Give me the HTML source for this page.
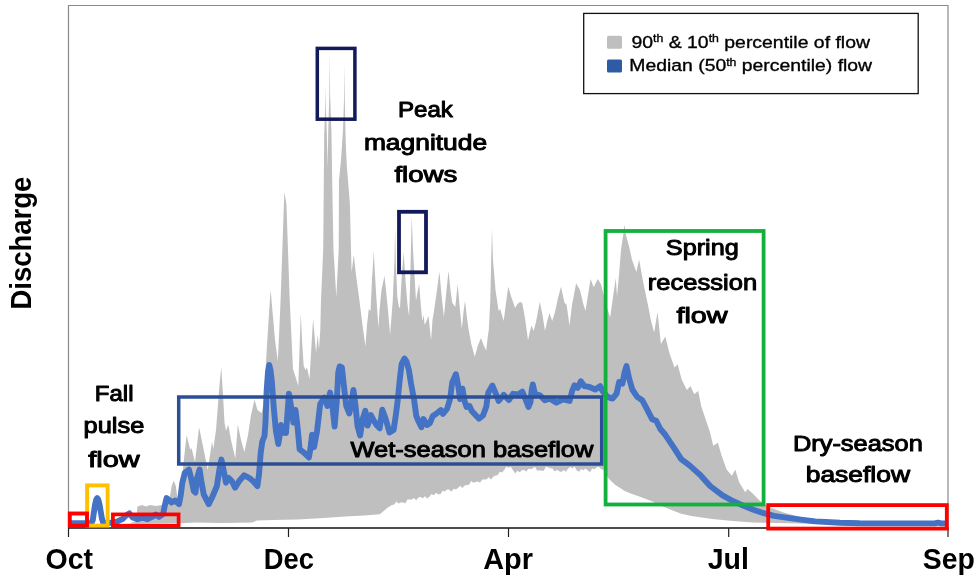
<!DOCTYPE html>
<html lang="en"><head><meta charset="utf-8"><title>Functional flow components</title>
<style>
html,body{margin:0;padding:0;background:#fff;}
body{width:977px;height:582px;overflow:hidden;font-family:"Liberation Sans",Arial,sans-serif;}
svg{display:block;}
</style></head><body>
<svg width="977" height="582" viewBox="0 0 977 582">
<rect x="0" y="0" width="977" height="582" fill="#ffffff"/>
<!-- percentile band -->
<polygon points="130.0,523.0 135.0,521.8 136.6,519.0 137.4,506.5 142.0,505.0 146.0,506.5 150.0,505.0 156.0,506.0 162.0,505.0 167.0,503.5 169.6,499.0 171.7,486.0 173.8,480.5 175.8,486.0 177.9,501.0 180.0,497.0 182.7,472.5 184.0,458.7 186.6,435.0 189.0,445.0 190.3,449.7 191.5,448.0 195.0,462.0 199.1,427.3 203.7,449.7 207.8,470.0 210.0,455.0 212.0,441.5 213.3,449.0 216.0,430.0 219.5,385.0 221.2,367.0 223.0,395.0 224.5,422.5 226.0,431.0 228.2,424.5 231.0,440.0 235.3,458.5 237.8,424.5 241.0,440.0 244.4,452.0 248.0,435.0 251.0,415.0 254.5,399.8 257.5,410.0 261.5,413.0 263.5,405.0 264.3,392.0 267.0,345.0 269.9,300.0 270.7,290.0 271.5,300.0 275.0,340.0 277.8,361.0 279.3,330.0 280.6,300.0 283.9,204.0 284.4,192.0 286.4,204.0 289.7,300.0 293.0,369.0 298.3,385.8 299.5,350.0 300.8,313.5 302.0,340.0 303.7,366.0 305.5,370.0 307.0,367.5 309.5,379.2 311.5,345.0 313.1,319.0 314.5,335.0 316.1,352.8 317.7,334.6 319.0,349.5 320.3,330.0 321.0,300.0 323.2,250.0 324.2,135.0 325.1,110.0 325.5,86.0 325.9,110.0 326.9,135.0 327.6,168.0 328.3,130.0 329.3,95.0 329.7,53.0 330.1,95.0 331.4,130.0 332.6,204.0 333.5,250.0 336.3,297.0 338.7,250.0 338.9,204.0 339.0,180.0 341.0,160.0 343.0,130.0 344.0,100.0 344.4,64.0 344.8,100.0 345.4,130.0 346.0,150.0 346.9,167.0 349.9,204.0 351.0,250.0 351.6,272.0 353.8,255.0 356.0,275.0 359.5,301.0 362.5,325.0 365.4,346.5 367.0,325.0 368.8,309.0 370.5,311.0 372.0,280.0 373.8,251.0 375.0,275.0 376.5,300.0 378.5,328.0 379.5,310.0 381.5,290.0 384.5,275.8 386.5,295.0 388.0,310.0 390.1,334.8 392.8,300.0 394.4,262.0 395.1,228.0 395.8,262.0 397.3,297.0 399.0,307.0 400.0,308.0 401.5,280.0 403.6,252.0 405.5,280.0 407.5,305.0 409.1,316.5 410.2,280.0 411.7,216.0 413.0,250.0 416.0,300.7 417.5,292.0 419.2,284.0 420.8,305.0 422.3,321.0 423.7,315.0 424.6,324.7 426.0,322.0 428.5,316.0 431.1,340.2 432.5,320.0 434.0,311.0 437.0,290.0 439.4,271.4 441.5,295.0 443.9,317.0 446.0,295.0 448.5,270.8 450.5,290.0 452.2,302.8 455.3,307.0 457.7,284.0 459.5,305.0 461.8,328.9 463.5,312.0 465.0,300.7 467.0,318.0 468.7,330.0 471.5,345.0 474.8,356.7 478.0,345.0 481.0,338.0 483.5,345.0 486.2,350.5 488.0,335.0 488.8,330.0 490.3,300.0 491.2,260.0 492.0,228.6 493.0,260.0 495.5,290.0 498.6,311.0 500.2,309.0 503.7,321.0 506.0,303.0 508.2,286.7 511.0,296.0 515.0,308.0 517.5,304.0 520.2,301.8 522.3,303.5 525.0,318.0 528.0,340.2 529.8,332.0 531.5,325.5 533.6,331.0 536.0,322.0 539.8,301.8 542.5,315.0 545.0,331.0 547.5,320.0 549.5,313.0 552.2,321.0 555.0,312.0 558.0,298.0 561.0,286.7 563.0,296.0 564.5,302.8 566.6,304.8 569.5,325.6 572.0,305.0 576.1,283.2 580.0,290.0 583.0,303.0 585.5,311.0 588.0,295.0 590.6,279.0 593.7,287.3 597.8,279.0 601.0,284.2 604.0,296.0 607.0,308.0 610.2,317.2 613.0,297.0 615.8,278.0 617.0,296.6 619.0,275.0 621.0,250.0 623.2,234.7 624.5,224.4 625.9,234.7 629.2,247.0 631.9,259.5 636.4,271.9 639.1,259.5 643.2,282.2 648.4,306.9 650.8,320.0 654.2,332.4 657.5,312.0 660.9,344.0 665.3,336.5 669.4,353.0 674.5,367.4 677.6,364.3 681.8,379.8 686.9,390.0 690.6,386.0 694.1,394.2 698.2,391.0 701.3,406.6 705.5,419.0 710.1,432.4 713.2,445.8 717.9,442.7 721.4,455.0 726.6,469.5 731.8,475.7 735.3,469.5 739.0,481.9 745.2,492.2 747.6,489.0 752.4,493.2 759.6,500.4 767.8,506.6 784.3,512.8 800.8,517.0 815.3,519.5 830.0,521.5 860.0,522.6 946.0,523.0 946.0,524.4 830.0,524.2 767.8,522.8 753.4,522.5 732.8,521.0 712.2,519.0 691.5,515.9 681.2,513.8 670.9,509.7 660.6,505.6 652.4,501.4 640.0,496.8 632.0,494.0 625.2,491.2 615.0,484.8 608.5,478.4 604.0,470.0 601.0,469.0 598.8,466.8 596.6,467.4 594.4,469.3 592.2,468.6 590.0,472.2 587.8,470.4 585.6,468.6 583.4,470.2 581.2,468.9 579.0,471.8 576.8,470.5 574.6,466.4 572.4,468.2 570.2,467.1 568.0,468.8 565.8,471.8 563.6,470.0 561.4,471.9 559.2,471.3 557.0,469.7 554.8,471.5 552.6,468.6 550.4,468.3 548.2,467.5 546.0,466.6 543.8,470.8 541.6,470.7 539.4,470.2 537.2,470.7 535.0,466.7 532.8,468.2 530.6,469.2 528.4,468.8 526.2,471.8 524.0,469.8 521.8,470.4 519.6,472.2 517.4,470.8 515.2,473.6 513.0,470.3 510.8,466.7 508.6,467.8 506.4,466.5 504.2,470.1 502.0,472.4 499.8,471.7 497.6,475.2 495.4,475.4 493.2,476.8 491.0,479.4 488.8,477.2 486.6,479.2 484.4,479.4 482.2,479.4 480.0,482.8 477.8,481.4 475.6,482.0 473.4,482.7 471.2,481.1 469.0,484.7 466.8,485.1 464.6,485.5 462.4,487.9 460.2,485.8 458.0,488.0 455.8,489.5 453.6,488.8 451.4,491.7 449.2,489.5 447.0,489.5 444.8,491.6 442.6,490.8 440.4,494.2 438.2,494.2 436.0,492.7 433.8,495.3 431.6,494.1 429.4,496.7 427.2,498.4 425.0,496.3 422.8,498.2 420.6,497.0 418.4,497.5 416.2,500.3 414.0,498.1 411.8,499.5 409.6,499.6 407.4,499.4 405.2,503.6 403.0,502.3 400.8,502.6 398.6,503.5 396.4,501.4 394.2,504.5 392.0,505.0 387.5,507.8 379.8,514.2 364.5,515.5 349.0,516.3 323.5,518.0 298.0,519.6 272.4,520.0 257.0,520.6 252.0,522.4 221.0,523.0 195.6,522.4 180.2,523.2 137.0,523.8 130.0,523.6" fill="#bfbfbf"/>
<!-- plot frame -->
<path d="M68.5,528 V5.5 H948 V528" fill="none" stroke="#8a8a8a" stroke-width="1.2"/>
<path d="M68,528 H948.5" fill="none" stroke="#111" stroke-width="1.3"/>
<path d="M68.5,528 V537 M288.5,528 V537 M508.5,528 V537 M728.7,528 V537 M948,528 V537" fill="none" stroke="#222" stroke-width="1.2"/>
<!-- median line -->
<polyline points="71.5,523.2 84.7,523.2 91.3,523.2 92.8,520.0 93.8,513.0 95.0,505.0 96.2,499.7 97.2,498.0 98.3,499.7 99.6,505.0 100.8,512.0 101.9,518.5 103.0,522.0 105.0,523.0 112.0,522.8 117.0,521.6 122.7,518.8 126.0,515.5 129.3,513.4 132.6,517.5 137.5,519.2 142.5,517.5 147.4,519.2 152.4,516.7 155.7,514.5 159.0,516.7 163.1,514.0 164.7,506.0 166.6,498.0 169.0,500.0 171.6,502.5 175.0,500.5 179.0,504.2 180.8,495.0 182.3,482.7 184.8,472.8 188.9,469.5 191.4,479.4 193.8,491.0 195.5,492.5 197.1,477.8 199.6,469.5 201.3,481.0 203.7,494.3 208.7,504.2 212.8,495.9 216.9,486.0 219.4,469.5 221.4,459.6 223.5,469.5 226.0,482.7 228.5,477.8 231.8,481.0 235.1,487.7 239.2,481.0 244.2,475.3 249.1,477.8 253.0,481.0 257.4,486.0 259.0,474.5 260.7,453.0 262.3,441.5 264.5,436.0 265.5,422.5 266.6,391.5 268.0,372.0 269.2,365.0 270.5,370.0 271.8,381.0 273.8,408.0 275.9,430.7 278.3,444.0 279.8,435.0 281.0,425.0 282.5,430.0 284.1,432.8 286.0,433.0 287.6,412.0 288.9,393.6 291.3,408.0 293.4,422.5 295.5,410.0 297.5,426.6 299.6,449.3 303.7,452.4 308.9,457.5 310.5,448.0 312.0,434.8 314.0,447.2 317.1,430.7 320.2,404.0 324.3,397.7 327.4,406.0 330.1,392.6 332.6,408.0 334.6,426.6 336.7,401.9 338.3,372.0 339.7,366.4 341.9,367.5 343.8,385.0 346.2,405.6 349.3,413.5 351.3,404.0 353.4,390.0 355.5,405.6 357.5,426.0 360.1,435.5 362.7,419.0 365.3,410.8 367.6,425.5 370.9,415.0 374.0,421.0 377.0,425.5 379.7,428.3 382.3,409.7 385.4,418.0 389.5,432.4 393.6,430.0 395.7,416.0 397.7,400.5 399.5,382.0 401.6,364.0 404.4,358.5 406.5,361.5 408.9,370.0 411.1,384.0 414.2,400.5 416.3,416.0 418.4,421.0 421.4,427.3 423.5,419.0 427.1,425.0 430.0,423.0 432.8,416.0 435.9,414.0 440.8,410.0 442.9,414.0 447.0,409.0 450.1,399.0 452.2,382.5 455.9,374.2 458.4,386.6 460.0,399.0 462.5,388.7 464.5,401.0 466.6,407.0 469.5,406.0 471.8,411.0 475.9,415.5 479.0,418.6 483.0,415.5 486.2,407.0 488.2,392.8 492.4,385.6 495.5,392.8 498.6,401.0 503.7,394.8 508.9,400.0 513.0,393.8 518.0,394.5 522.3,391.7 525.4,399.0 528.5,407.0 530.5,402.0 531.7,390.0 532.8,384.5 535.0,394.0 539.9,395.3 544.8,400.2 549.8,398.6 556.4,402.7 563.0,399.4 569.6,401.0 572.1,391.1 574.5,385.4 577.8,387.8 580.8,381.2 584.4,386.2 589.4,387.0 595.2,389.5 600.1,386.2 602.6,391.1 607.5,396.9 612.5,398.6 616.6,393.6 619.1,382.0 622.4,383.7 624.4,373.0 626.5,366.0 629.0,378.0 632.3,389.5 637.2,396.9 642.2,400.2 647.1,409.3 652.1,419.2 656.2,420.8 660.3,429.0 665.3,434.8 667.8,438.6 674.0,447.8 681.2,459.2 689.5,465.4 699.8,474.6 710.1,486.0 722.5,495.3 732.8,501.0 743.1,505.6 753.4,509.7 763.7,513.2 774.0,515.9 784.3,517.3 800.8,519.6 815.3,521.4 840.0,522.8 859.5,523.3 935.0,523.4 938.0,522.6 941.0,523.4 944.5,523.4" fill="none" stroke="#4472c4" stroke-width="5.9" stroke-linejoin="round" stroke-linecap="round"/>
<!-- annotation boxes -->
<rect x="178.7" y="397" width="423" height="67" fill="none" stroke="#2a4f96" stroke-width="3.5"/>
<rect x="317.3" y="48.4" width="37.6" height="70.8" fill="none" stroke="#131a5a" stroke-width="3.5"/>
<rect x="399" y="211.8" width="27" height="60.5" fill="none" stroke="#131a5a" stroke-width="3.8"/>
<rect x="605.6" y="231" width="158" height="273.5" fill="none" stroke="#12b03c" stroke-width="3.8"/>
<rect x="87.1" y="485.4" width="20.5" height="40.2" fill="none" stroke="#ffc000" stroke-width="3.9"/>
<rect x="69.8" y="513.5" width="17.2" height="12.2" fill="none" stroke="#ff0000" stroke-width="3.9"/>
<rect x="112.9" y="514.4" width="65.7" height="11.3" fill="none" stroke="#ff0000" stroke-width="3.7"/>
<rect x="768.2" y="505.1" width="178.6" height="23.5" fill="none" stroke="#ff0000" stroke-width="3.8"/>
<!-- legend -->
<rect x="583.7" y="13.4" width="334.5" height="80.2" fill="#ffffff" stroke="#111" stroke-width="1.3"/>
<rect x="607" y="35.8" width="15" height="13" rx="1.5" fill="#bfbfbf"/>
<rect x="607" y="59.5" width="15" height="13" rx="1.5" fill="#2f5aa6"/>
<text x="631.5" y="47.9" font-family="Liberation Sans, Arial, sans-serif" font-size="17.4" fill="#000" stroke="#000" stroke-width="0.35" textLength="238.5" lengthAdjust="spacingAndGlyphs">90<tspan font-size="11" dy="-5.6">th</tspan><tspan dy="5.6"> &amp; 10</tspan><tspan font-size="11" dy="-5.6">th</tspan><tspan dy="5.6"> percentile of flow</tspan></text>
<text x="629.3" y="71.4" font-family="Liberation Sans, Arial, sans-serif" font-size="17.4" fill="#000" stroke="#000" stroke-width="0.35" textLength="242.8" lengthAdjust="spacingAndGlyphs">Median (50<tspan font-size="11" dy="-5.6">th</tspan><tspan dy="5.6"> percentile) flow</tspan></text>
<!-- axis labels -->
<text x="45.5" y="568.7" font-family="Liberation Sans, Arial, sans-serif" font-weight="bold" font-size="30" textLength="47.5" lengthAdjust="spacingAndGlyphs" fill="#000">Oct</text>
<text x="263.8" y="568.7" font-family="Liberation Sans, Arial, sans-serif" font-weight="bold" font-size="30" textLength="50.2" lengthAdjust="spacingAndGlyphs" fill="#000">Dec</text>
<text x="483.2" y="568.7" font-family="Liberation Sans, Arial, sans-serif" font-weight="bold" font-size="30" textLength="49.7" lengthAdjust="spacingAndGlyphs" fill="#000">Apr</text>
<text x="707.7" y="568.7" font-family="Liberation Sans, Arial, sans-serif" font-weight="bold" font-size="30" textLength="41.2" lengthAdjust="spacingAndGlyphs" fill="#000">Jul</text>
<text x="922.8" y="568.7" font-family="Liberation Sans, Arial, sans-serif" font-weight="bold" font-size="30" textLength="52.0" lengthAdjust="spacingAndGlyphs" fill="#000">Sep</text>
<text transform="translate(30.7,309.6) rotate(-90)" font-family="Liberation Sans, Arial, sans-serif" font-weight="bold" font-size="30.4" textLength="133" lengthAdjust="spacingAndGlyphs" fill="#000">Discharge</text>
<!-- annotations -->
<text x="94.8" y="400.7" font-family="Liberation Sans, Arial, sans-serif" font-size="22.5" textLength="38.7" lengthAdjust="spacingAndGlyphs" fill="#000" stroke="#000" stroke-width="1.0" stroke-linejoin="round">Fall</text>
<text x="83.5" y="433.4" font-family="Liberation Sans, Arial, sans-serif" font-size="22.5" textLength="60.8" lengthAdjust="spacingAndGlyphs" fill="#000" stroke="#000" stroke-width="1.0" stroke-linejoin="round">pulse</text>
<text x="88.2" y="466.5" font-family="Liberation Sans, Arial, sans-serif" font-size="22.5" textLength="51.4" lengthAdjust="spacingAndGlyphs" fill="#000" stroke="#000" stroke-width="1.0" stroke-linejoin="round">flow</text>
<text x="397.9" y="116.6" font-family="Liberation Sans, Arial, sans-serif" font-size="22.5" textLength="55.0" lengthAdjust="spacingAndGlyphs" fill="#000" stroke="#000" stroke-width="1.0" stroke-linejoin="round">Peak</text>
<text x="363.9" y="149.6" font-family="Liberation Sans, Arial, sans-serif" font-size="22.5" textLength="123.2" lengthAdjust="spacingAndGlyphs" fill="#000" stroke="#000" stroke-width="1.0" stroke-linejoin="round">magnitude</text>
<text x="394.4" y="182.0" font-family="Liberation Sans, Arial, sans-serif" font-size="22.5" textLength="63.0" lengthAdjust="spacingAndGlyphs" fill="#000" stroke="#000" stroke-width="1.0" stroke-linejoin="round">flows</text>
<text x="665.8" y="255.3" font-family="Liberation Sans, Arial, sans-serif" font-size="22.5" textLength="73.0" lengthAdjust="spacingAndGlyphs" fill="#000" stroke="#000" stroke-width="1.0" stroke-linejoin="round">Spring</text>
<text x="647.8" y="289.5" font-family="Liberation Sans, Arial, sans-serif" font-size="22.5" textLength="109.4" lengthAdjust="spacingAndGlyphs" fill="#000" stroke="#000" stroke-width="1.0" stroke-linejoin="round">recession</text>
<text x="676.4" y="322.5" font-family="Liberation Sans, Arial, sans-serif" font-size="22.5" textLength="51.2" lengthAdjust="spacingAndGlyphs" fill="#000" stroke="#000" stroke-width="1.0" stroke-linejoin="round">flow</text>
<text x="350.5" y="457.4" font-family="Liberation Sans, Arial, sans-serif" font-size="22.5" textLength="242.9" lengthAdjust="spacingAndGlyphs" fill="#000" stroke="#000" stroke-width="1.0" stroke-linejoin="round">Wet-season baseflow</text>
<text x="792.9" y="450.8" font-family="Liberation Sans, Arial, sans-serif" font-size="22.5" textLength="129.9" lengthAdjust="spacingAndGlyphs" fill="#000" stroke="#000" stroke-width="1.0" stroke-linejoin="round">Dry-season</text>
<text x="805.7" y="482.4" font-family="Liberation Sans, Arial, sans-serif" font-size="22.5" textLength="104.3" lengthAdjust="spacingAndGlyphs" fill="#000" stroke="#000" stroke-width="1.0" stroke-linejoin="round">baseflow</text>
</svg>
</body></html>
